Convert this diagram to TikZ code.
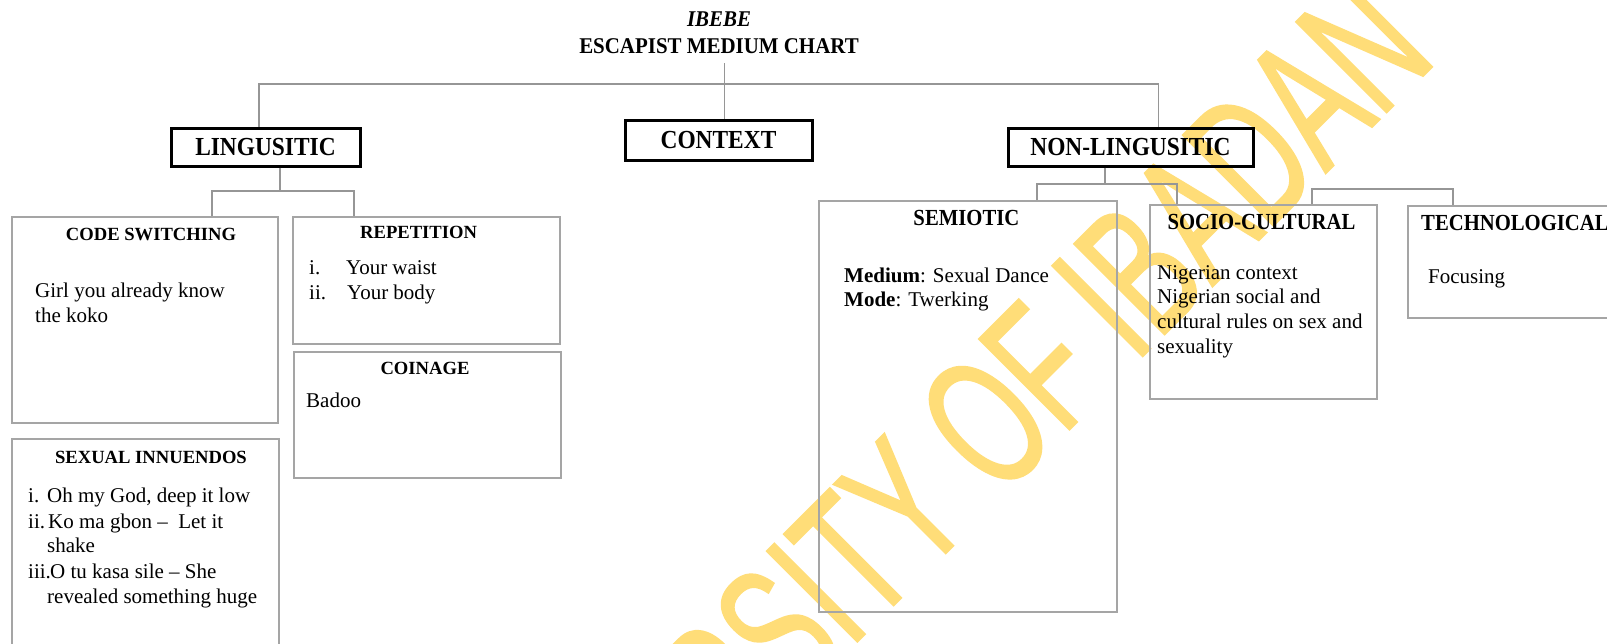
\documentclass[tikz,border=0pt]{standalone}
\usepackage{fontspec}
\setmainfont{Liberation Serif}
\newfontfamily\condfont[FakeStretch=0.9]{Liberation Serif}
\newfontfamily\titlefont[FakeStretch=0.93]{Liberation Serif}
\newfontfamily\markfont[FakeStretch=0.62,FakeBold=1]{Liberation Sans}
\definecolor{linegray}{RGB}{150,150,150}
\definecolor{boxgray}{RGB}{165,165,165}
\definecolor{markyellow}{RGB}{255,221,120}

\begin{document}
\begin{tikzpicture}[x=1pt,y=-1pt,
  conn/.style={draw=linegray, line width=1.4pt},
  mainbox/.style={draw=black, line width=3pt, inner sep=0pt,
    font=\condfont\bfseries\fontsize{26}{30}\selectfont},
  thinbox/.style={draw=boxgray, line width=1.6pt, inner sep=0pt, anchor=north west},
  lsub/.style={font=\bfseries\fontsize{18.6}{22}\selectfont, inner sep=0pt, anchor=base},
  rsub/.style={font=\condfont\bfseries\fontsize{23}{27}\selectfont, inner sep=0pt},
  body/.style={font=\fontsize{21}{25}\selectfont, inner sep=0pt, anchor=base west},
]
\useasboundingbox (0,0) rectangle (1607,643);
\fill[white] (0,0) rectangle (1607,643);
\clip (0,0) rectangle (1607,643);

% watermark lettering under the chart
\node[font=\markfont\fontsize{186}{190}\selectfont, text=markyellow, rotate=45,
      anchor=base east, inner sep=0pt] (mark) at (1439,60) {UNIVERSITY OF IBADAN};

% heading
\node[font=\titlefont\bfseries\itshape\fontsize{22.5}{26}\selectfont, anchor=base, inner sep=0pt]
  (ibebe) at (719,26.6) {IBEBE};
\node[font=\titlefont\bfseries\fontsize{22.5}{26}\selectfont, anchor=base, inner sep=0pt]
  (chart) at (719,53) {ESCAPIST MEDIUM CHART};

% top level boxes
\node[mainbox, minimum width=189pt, minimum height=38pt] (ling) at (265.5,147) {LINGUSITIC};
\node[mainbox, minimum width=187pt, minimum height=40pt] (context) at (718.5,140) {CONTEXT};
\node[mainbox, minimum width=245pt, minimum height=38pt] (nonling) at (1130.5,147) {NON-LINGUSITIC};

% second level boxes
\node[thinbox, minimum width=266pt, minimum height=206pt] (cs) at (11,216) {};
\node[thinbox, minimum width=267pt, minimum height=127pt] (rep) at (292,216) {};
\node[thinbox, minimum width=267pt, minimum height=126pt] (coin) at (293,351) {};
\node[thinbox, minimum width=267pt, minimum height=240pt] (sex) at (11,438) {};
\node[thinbox, minimum width=298pt, minimum height=411pt] (sem) at (818,200) {};
\node[thinbox, minimum width=227pt, minimum height=194pt] (soc) at (1149,204) {};
\node[thinbox, minimum width=240pt, minimum height=112pt] (tech) at (1407,205) {};

% connectors
\coordinate (t1) at (724.7,63);
\draw[conn] (t1) -- (context.north -| t1);
\coordinate (busL) at (259,84);
\coordinate (busR) at (1158.5,84);
\draw[conn] (ling.north -| busL) -- (busL) -- (busR) -- (nonling.north -| busR);

\coordinate (lb1) at (212,191);
\coordinate (lb2) at (354,191);
\coordinate (lbm) at (280,191);
\draw[conn] (ling.south -| lbm) -- (lbm);
\draw[conn] (cs.north -| lb1) -- (lb1) -- (lb2) -- (rep.north -| lb2);

\coordinate (nb1) at (1037,184);
\coordinate (nb2) at (1177,184);
\coordinate (nbm) at (1105,184);
\draw[conn] (nonling.south -| nbm) -- (nbm);
\draw[conn] (sem.north -| nb1) -- (nb1) -- (nb2) -- (soc.north -| nb2);

\coordinate (sb1) at (1312,189);
\coordinate (sb2) at (1453,189);
\draw[conn] (soc.north -| sb1) -- (sb1) -- (sb2) -- (tech.north -| sb2);

% linguistic branch texts
\node[lsub] (cst) at (151,240) {CODE SWITCHING};
\node[body] (cs1) at (35,297) {Girl you already know};
\node[body] (cs2) at (35,322) {the koko};

\node[lsub] (rept) at (418.6,238) {REPETITION};
\node[body] (rep1n) at (309,274) {i.};
\node[body] (rep1) at (346,274) {Your waist};
\node[body] (rep2n) at (309,299) {ii.};
\node[body] (rep2) at (347,299) {Your body};

\node[lsub] (coint) at (425,374) {COINAGE};
\node[body] (coin1) at (306,407) {Badoo};

\node[lsub] (sext) at (151,463) {SEXUAL INNUENDOS};
\node[body] (sex1n) at (28,502) {i.};
\node[body] (sex1) at (47,502) {Oh my God, deep it low};
\node[body] (sex2n) at (28,528) {ii.};
\node[body] (sex2) at (48,528) {Ko ma gbon –\ \ Let it};
\node[body] (sex2b) at (47,552) {shake};
\node[body] (sex3n) at (28,578) {iii.};
\node[body] (sex3) at (50,578) {O tu kasa sile – She};
\node[body] (sex3b) at (47,603) {revealed something huge};

% non-linguistic branch texts
\node[rsub, anchor=base] (semt) at (966.4,225.5) {SEMIOTIC};
\node[body] (sem1) at (844,282) {\textbf{Medium}: Sexual Dance};
\node[body] (sem2) at (844,306) {\textbf{Mode}: Twerking};

\node[rsub, anchor=base] (soct) at (1261.5,229) {SOCIO-CULTURAL};
\node[body] (soc1) at (1157,279) {Nigerian context};
\node[body] (soc2) at (1157,303) {Nigerian social and};
\node[body] (soc3) at (1157,328) {cultural rules on sex and};
\node[body] (soc4) at (1157,353) {sexuality};

\node[rsub, anchor=base west] (techt) at (1421,230) {TECHNOLOGICAL};
\node[body] (tech1) at (1428,283) {Focusing};
\end{tikzpicture}
\end{document}
